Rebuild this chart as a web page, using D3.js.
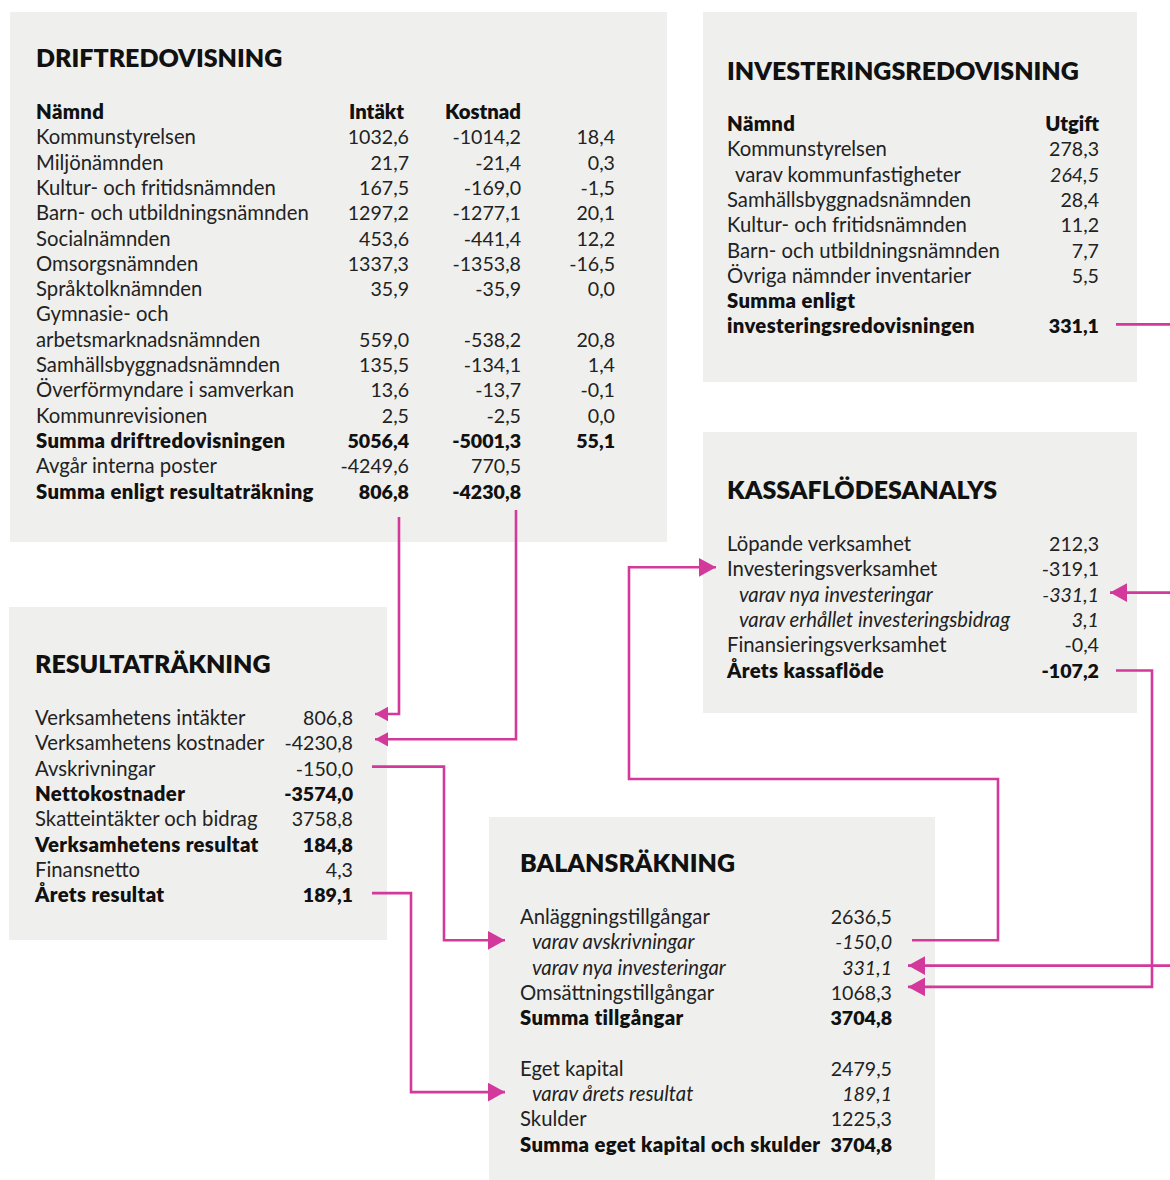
<!DOCTYPE html>
<html>
<head>
<meta charset="utf-8">
<script src="https://cdn.jsdelivr.net/npm/d3@7"></script>
<style>
  body { margin: 0; background: #fff; }
  svg text { font-family: Lato, "Noto Sans", sans-serif; fill: #222; }
</style>
</head>
<body>
<svg id="chart" width="1170" height="1180"></svg>
<script>
// ---- data ----
var driftNamnd = ["Kommunstyrelsen", "Miljönämnden", "Kultur- och fritidsnämnden", "Barn- och utbildningsnämnden",
  "Socialnämnden", "Omsorgsnämnden", "Språktolknämnden", "Gymnasie- och|arbetsmarknadsnämnden",
  "Samhällsbyggnadsnämnden", "Överförmyndare i samverkan", "Kommunrevisionen"];
var driftIntakt = [1032.6, 21.7, 167.5, 1297.2, 453.6, 1337.3, 35.9, 559.0, 135.5, 13.6, 2.5];
var driftKostnad = [-1014.2, -21.4, -169.0, -1277.1, -441.4, -1353.8, -35.9, -538.2, -134.1, -13.7, -2.5];
var driftNetto = [18.4, 0.3, -1.5, 20.1, 12.2, -16.5, 0.0, 20.8, 1.4, -0.1, 0.0];
var driftSummor = ["Summa driftredovisningen", "Avgår interna poster", "Summa enligt resultaträkning"];
var driftSummaIntakt = [5056.4, -4249.6, 806.8];
var driftSummaKostnad = [-5001.3, 770.5, -4230.8];
var driftSummaNetto = [55.1, null, null];

var invNamnd = ["Kommunstyrelsen", "varav kommunfastigheter", "Samhällsbyggnadsnämnden",
  "Kultur- och fritidsnämnden", "Barn- och utbildningsnämnden", "Övriga nämnder inventarier",
  "Summa enligt|investeringsredovisningen"];
var invUtgift = [278.3, 264.5, 28.4, 11.2, 7.7, 5.5, 331.1];

var kassaPoster = ["Löpande verksamhet", "Investeringsverksamhet", "varav nya investeringar",
  "varav erhållet investeringsbidrag", "Finansieringsverksamhet", "Årets kassaflöde"];
var kassaBelopp = [212.3, -319.1, -331.1, 3.1, -0.4, -107.2];

var resultatPoster = ["Verksamhetens intäkter", "Verksamhetens kostnader", "Avskrivningar", "Nettokostnader",
  "Skatteintäkter och bidrag", "Verksamhetens resultat", "Finansnetto", "Årets resultat"];
var resultatBelopp = [806.8, -4230.8, -150.0, -3574.0, 3758.8, 184.8, 4.3, 189.1];

var balansPoster = ["Anläggningstillgångar", "varav avskrivningar", "varav nya investeringar",
  "Omsättningstillgångar", "Summa tillgångar", "", "Eget kapital", "varav årets resultat",
  "Skulder", "Summa eget kapital och skulder"];
var balansBelopp = [2636.5, -150.0, 331.1, 1068.3, 3704.8, null, 2479.5, 189.1, 1225.3, 3704.8];

// ---- helpers ----
var sv = d3.formatLocale({decimal: ",", thousands: "", grouping: [3], currency: ["", " kr"], minus: "-"});
var fmt = sv.format(".1f");

var boldRows = ["Summa driftredovisningen", "Summa enligt resultaträkning", "Summa enligt|investeringsredovisningen",
  "Årets kassaflöde", "Nettokostnader", "Verksamhetens resultat", "Årets resultat",
  "Summa tillgångar", "Summa eget kapital och skulder"];

var pink = "#d3399a";
var svg = d3.select("#chart");
var STEP = 25.3;
var FS = 20.3;   // labels
var NFS = 19.6;  // numbers

function rowScale(firstBaseline) {
  return d3.scaleLinear().domain([0, 1]).range([firstBaseline, firstBaseline + STEP]);
}

function panel(x, y, w, h, title, tx, ty) {
  var g = svg.append("g");
  g.append("rect").attr("x", x).attr("y", y).attr("width", w).attr("height", h).attr("fill", "#eff0ee");
  g.append("text").attr("x", tx).attr("y", ty).text(title)
    .style("font-size", "25px").style("font-weight", 800).style("fill", "#111");
  return g;
}

// rows: [{label, values:[...], italicLabel, italicValue, indent}]
function drawRows(g, rows, y, labelX, colX) {
  rows.forEach(function(r, i) {
    var bold = boldRows.indexOf(r.label) >= 0 || r.header;
    var parts = r.label.split("|");
    var row = i + (r.offset || 0);
    parts.forEach(function(p, k) {
      g.append("text")
        .attr("x", labelX + (r.indent || 0))
        .attr("y", y(row + k))
        .style("font-size", FS + "px")
        .style("font-weight", bold ? 800 : 400)
        .style("letter-spacing", bold ? "0.35px" : "0px")
        .style("fill", bold ? "#111" : "#222")
        .style("font-style", r.italicLabel ? "italic" : "normal")
        .text(p);
    });
    var vRow = row + parts.length - 1;
    r.values.forEach(function(v, c) {
      if (v === null || v === undefined) return;
      var isNum = typeof v !== "string";
      g.append("text")
        .attr("x", colX[c]).attr("y", y(vRow))
        .attr("text-anchor", "end")
        .style("font-size", (isNum ? NFS : FS) + "px")
        .style("font-weight", bold ? 800 : 400)
        .style("fill", bold ? "#111" : "#222")
        .style("font-style", r.italicValue ? "italic" : "normal")
        .text(isNum ? fmt(v) : v);
    });
  });
}

// ---- Driftredovisning ----
var gDrift = panel(10, 12, 657, 530, "DRIFTREDOVISNING", 36, 67);
var yDrift = rowScale(119);
var driftCols = [409, 521, 615];
var driftRows = [{label: "Nämnd", header: true, values: ["Intäkt", "Kostnad"]}];
var extra = 0;
driftNamnd.forEach(function(n, i) {
  driftRows.push({label: n, values: [driftIntakt[i], driftKostnad[i], driftNetto[i]], offset: extra});
  if (n.indexOf("|") >= 0) extra += 1;
});
driftSummor.forEach(function(n, i) {
  driftRows.push({label: n, values: [driftSummaIntakt[i], driftSummaKostnad[i], driftSummaNetto[i]], offset: extra});
});
drawRows(gDrift, driftRows, yDrift, 36, driftCols);
// header right edge sits slightly left of numbers
gDrift.selectAll("text").filter(function() { return this.textContent === "Intäkt"; }).attr("x", 404);

// ---- Investeringsredovisning ----
var gInv = panel(703, 12, 434, 370, "INVESTERINGSREDOVISNING", 727, 80);
var yInv = rowScale(131);
var invRows = [{label: "Nämnd", header: true, values: ["Utgift"]}];
invNamnd.forEach(function(n, i) {
  var sub = n.indexOf("varav") === 0;
  invRows.push({label: n, values: [invUtgift[i]], indent: sub ? 8 : 0, italicValue: sub});
});
drawRows(gInv, invRows, yInv, 727, [1099]);

// ---- Kassaflödesanalys ----
var gKassa = panel(703, 432, 434, 281, "KASSAFLÖDESANALYS", 727, 499);
var yKassa = rowScale(551);
drawRows(gKassa, kassaPoster.map(function(n, i) {
  var sub = n.indexOf("varav") === 0;
  return {label: n, values: [kassaBelopp[i]], indent: sub ? 12 : 0, italicLabel: sub, italicValue: sub};
}), yKassa, 727, [1099]);

// ---- Resultaträkning ----
var gRes = panel(9, 607, 378, 333, "RESULTATRÄKNING", 35, 673);
var yRes = rowScale(725);
drawRows(gRes, resultatPoster.map(function(n, i) {
  return {label: n, values: [resultatBelopp[i]]};
}), yRes, 35, [353]);

// ---- Balansräkning ----
var gBal = panel(489, 817, 446, 363, "BALANSRÄKNING", 520, 872);
var yBal = rowScale(924);
drawRows(gBal, balansPoster.map(function(n, i) {
  var sub = n.indexOf("varav") === 0;
  return {label: n, values: [balansBelopp[i]], indent: sub ? 12 : 0, italicLabel: sub, italicValue: sub};
}), yBal, 520, [892]);

// ---- connectors ----
var lines = svg.append("g");
function mid(scale, row, dy) { return scale(row) - 9 + (dy || 0); }

function connector(points, head) {
  lines.append("path")
    .attr("d", d3.line()(points))
    .attr("fill", "none").attr("stroke", pink).attr("stroke-width", 2.6)
    .attr("stroke-linejoin", "miter");
  if (!head) return;
  var tip = points[points.length - 1], prev = points[points.length - 2];
  var dir = tip[0] > prev[0] ? 1 : -1;
  var len = head, half = head * 0.55;
  lines.append("path")
    .attr("d", "M" + tip[0] + "," + tip[1] + "L" + (tip[0] - dir * len) + "," + (tip[1] - half) +
      "L" + (tip[0] - dir * len) + "," + (tip[1] + half) + "Z")
    .attr("fill", pink);
}

// drift -> resultat
var yIntakt = mid(yRes, 0, -2), yKost = mid(yRes, 1, -2);
connector([[399, 517], [399, yIntakt], [375, yIntakt]], 13);
connector([[516, 510], [516, yKost], [375, yKost]], 13);
// resultat -> balans
var yAvskr = mid(yRes, 2);
var yBalAvskr = mid(yBal, 1);
connector([[372, yAvskr], [444, yAvskr], [444, yBalAvskr], [505, yBalAvskr]], 17);
var yArets = mid(yRes, 7);
var yBalArets = mid(yBal, 7);
connector([[372, yArets], [411, yArets], [411, yBalArets], [505, yBalArets]], 17);
// investering -> off page / kassa
var yInvSum = mid(yInv, 8);
connector([[1116, yInvSum], [1172, yInvSum]], 0);
var yKassaNya = mid(yKassa, 2);
connector([[1172, yKassaNya], [1110, yKassaNya]], 17);
// kassa -> balans
var yKassaSum = mid(yKassa, 5, 2);
var yBalOms = mid(yBal, 3, -4);
connector([[1116, yKassaSum], [1152, yKassaSum], [1152, yBalOms], [908, yBalOms]], 17);
var yBalNya = mid(yBal, 2);
connector([[1172, yBalNya], [908, yBalNya]], 17);
// balans avskrivningar -> kassa investeringsverksamhet
var yKassaInv = mid(yKassa, 1);
connector([[912, yBalAvskr], [998, yBalAvskr], [998, 779], [629, 779], [629, yKassaInv], [716, yKassaInv]], 17);
</script>
</body>
</html>
